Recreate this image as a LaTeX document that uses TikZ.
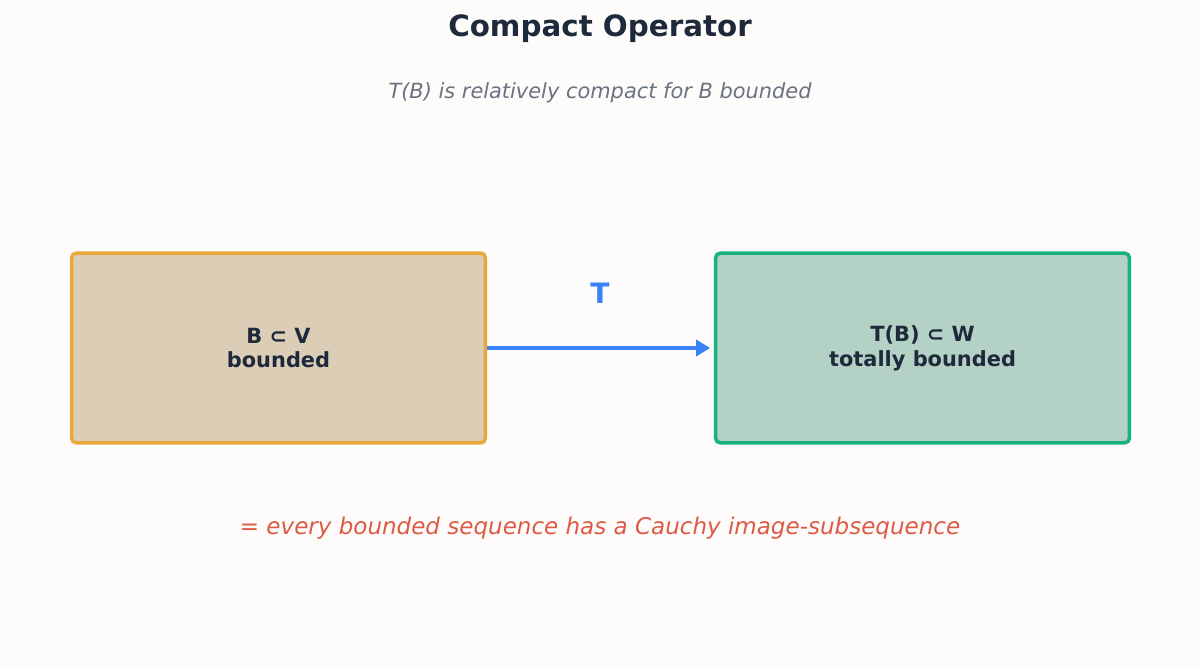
\documentclass[tikz,border=0pt]{standalone}
\usepackage{fontspec}
\setmainfont{DejaVu Sans}
\usetikzlibrary{arrows.meta}
\definecolor{ink}{HTML}{1E293B}
\definecolor{grey}{HTML}{6B7280}
\definecolor{note}{HTML}{DD5A45}
\definecolor{blue}{HTML}{3B82F6}
\definecolor{bgcol}{HTML}{FDFCFB}
\definecolor{domfill}{HTML}{DCCDB6}
\definecolor{domline}{HTML}{EBA83A}
\definecolor{codfill}{HTML}{B4D1C5}
\definecolor{codline}{HTML}{15B37F}

\begin{document}
\begin{tikzpicture}[x=0.02cm,y=-0.02cm,
  spacebox/.style={draw,line width=2pt,rounded corners=0.1cm,minimum width=8.28cm,minimum height=3.8cm,
    align=center,text=ink,font=\fontsize{11.9}{14.2}\selectfont\bfseries},
  maparrow/.style={blue,line width=2.3pt,-{Triangle[length=8pt,width=9pt]},shorten >=2pt}]
\fill[bgcol] (0,0) rectangle (1200,666);
\useasboundingbox (0,0) rectangle (1200,666);
\node[text=ink,font=\fontsize{16.7}{20}\selectfont\bfseries] (title) at (600,29) {Compact Operator};
\node[text=grey,font=\fontsize{11.9}{14}\selectfont\itshape] (sub) at (600,93) {T(B) is relatively compact for B bounded};
\node[spacebox,fill=domfill,draw=domline] (dom) at (278.5,348) {B ⊂ V\\bounded};
\node[spacebox,fill=codfill,draw=codline] (cod) at (922.5,348) {T(B) ⊂ W\\totally bounded};
\draw[maparrow] (dom.east) -- (cod.west);
\node[text=blue,font=\fontsize{16}{19}\selectfont\bfseries] (T) at (600,293) {T};
\node[text=note,font=\fontsize{13.1}{15}\selectfont\itshape] (note) at (600,528) {= every bounded sequence has a Cauchy image-subsequence};
\end{tikzpicture}
\end{document}
